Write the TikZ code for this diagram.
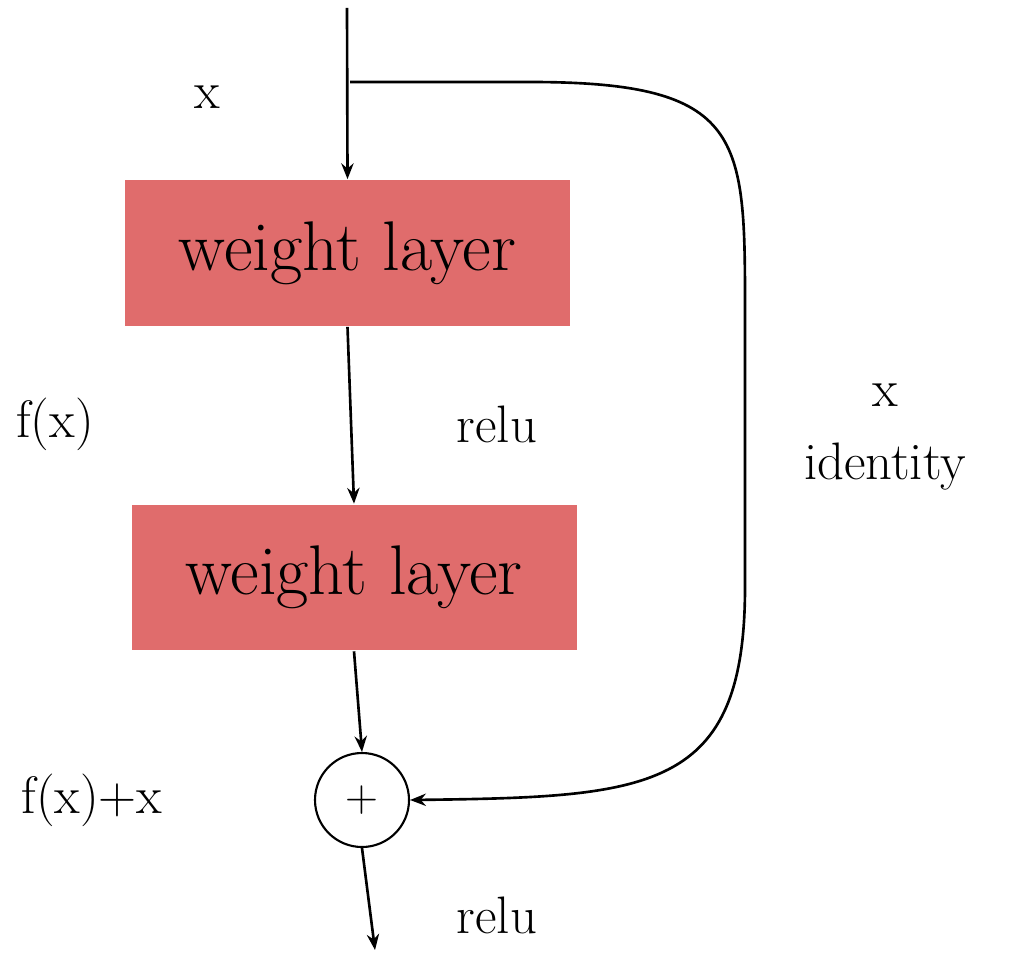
\documentclass[tikz,border=0pt]{standalone}
\usetikzlibrary{calc,arrows.meta,positioning}
\definecolor{layerred}{HTML}{E06C6C}
\begin{document}
\begin{tikzpicture}[-{Stealth[length=9pt,width=7pt]},line width=1.5pt,
  layer/.style={rectangle,fill=layerred,draw=none,minimum width=8.9cm,minimum height=2.9cm,font=\fontsize{40}{48}\selectfont},
  lbl/.style={font=\fontsize{30}{36}\selectfont}]
  \useasboundingbox (0,0) rectangle (20.3,19.24);

  \coordinate (in) at (6.94,19.08);
  \coordinate (split) at (7.0,17.6);
  \node[layer] (w1) at (6.95,14.18) {weight layer};
  \node[layer] (w2) at (7.08,7.69) {weight layer};
  \node[circle,draw,line width=1.2pt,minimum size=1.88cm,font=\fontsize{26}{30}\selectfont] (add) at (7.24,3.24) {+};
  \coordinate (out) at (7.5,0.24);

  \node[lbl] (xin) at (4.14,17.3) {x};
  \node[lbl] (fx) at (1.1,10.75) {f(x)};
  \node[lbl] (relu1) at (9.94,10.75) {relu};
  \node[lbl] (xid) at (17.7,11.34) {x};
  \node[lbl] (ident) at (17.7,9.9) {identity};
  \node[lbl] (fxx) at (1.84,3.24) {f(x)+x};
  \node[lbl] (relu2) at (9.94,0.94) {relu};

  \draw (in) -- (w1.north);
  \draw (w1.south) -- (w2.north);
  \draw (w2.south) -- (add.north);
  \draw (add.south) -- (out);
  \draw (split) -- (10.6,17.6) .. controls (14.9,17.6) and (14.9,16.5) .. (14.9,13)
    -- (14.9,7.5) .. controls (14.9,3.4) and (13,3.3) .. (add.east);
\end{tikzpicture}
\end{document}
